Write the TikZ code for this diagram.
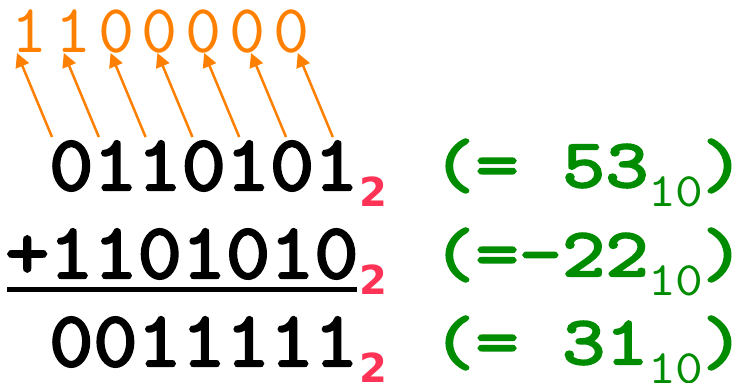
\documentclass[tikz,border=0pt]{standalone}
\usepackage{fontspec}
\newfontfamily\blackmono{lmmono10-regular.otf}[FakeBold=3,FakeStretch=1.07]
\newfontfamily\greenmono{lmmono10-regular.otf}[FakeBold=3,FakeStretch=1.2]
\newfontfamily\thinmono{lmmono10-regular.otf}
\newfontfamily\widemono{lmmono10-regular.otf}[FakeStretch=1.1]
\newfontfamily\subsans{DejaVu Sans Bold}
\usetikzlibrary{arrows.meta}
\definecolor{orng}{RGB}{255,128,0}
\definecolor{grn}{RGB}{0,140,0}
\definecolor{rd}{RGB}{255,51,85}
\begin{document}
\begin{tikzpicture}[x=1pt,y=-1pt,
  topdigit/.style={font=\fontsize{68.7}{75}\thinmono, text=orng, inner sep=0, anchor=base},
  bignum/.style={font=\fontsize{78.6}{85}\blackmono, text=black, inner sep=0, anchor=base west},
  basesub/.style={font=\fontsize{40}{44}\subsans, text=rd, inner sep=0, anchor=base},
  eqtext/.style={font=\fontsize{68.7}{75}\greenmono, text=grn, inner sep=0, anchor=base west},
  closepar/.style={font=\fontsize{68.7}{75}\greenmono, text=grn, inner sep=0, anchor=base},
  decsub/.style={font=\fontsize{48}{54}\widemono, text=grn, inner sep=0, anchor=base west},
  carry/.style={draw=orng, line width=2.5pt, -{Triangle[length=14pt,width=14pt]}},
  sumline/.style={draw=black, line width=5pt}]
\useasboundingbox (0,0) rectangle (737,383);
% carry row
\node[topdigit] (o0) at (30,52) {1};
\node[topdigit] (o1) at (74,52) {1};
\node[topdigit] (o2) at (117,52) {0};
\node[topdigit] (o3) at (160,52) {0};
\node[topdigit] (o4) at (204,52) {0};
\node[topdigit] (o5) at (248,52) {0};
\node[topdigit] (o6) at (292,52) {0};
% operands
\node[bignum] (r1) at (49,190) {0110101};
\node[bignum] (r2) at (5,278) {+1101010};
\node[bignum] (r3) at (49,366) {0011111};
\node[basesub] (s1) at (373,206) {2};
\node[basesub] (s2) at (373,294) {2};
\node[basesub] (s3) at (373,382) {2};
% decimal values
\node[eqtext] (e1) at (432,187) {(= 53};
\node[eqtext] (e2) at (432,276) {(=-22};
\node[eqtext] (e3) at (432,364) {(= 31};
\node[decsub] (d1) at (648,206) {10};
\node[decsub] (d2) at (648,295) {10};
\node[decsub] (d3) at (648,383) {10};
\node[closepar] (c1) at (723,187) {)};
\node[closepar] (c2) at (723,276) {)};
\node[closepar] (c3) at (723,364) {)};
% underline
\coordinate (ul) at (7,289);
\coordinate (ur) at (357,289);
\draw[sumline] (ul) -- (ur);
% carry arrows
\foreach \i in {0,...,6}{
  \coordinate (t\i) at ({52+46.8*\i},137);
  \coordinate (h\i) at ({17+46.8*\i},53);
  \draw[carry] (t\i) -- (h\i);
}
\end{tikzpicture}
\end{document}
